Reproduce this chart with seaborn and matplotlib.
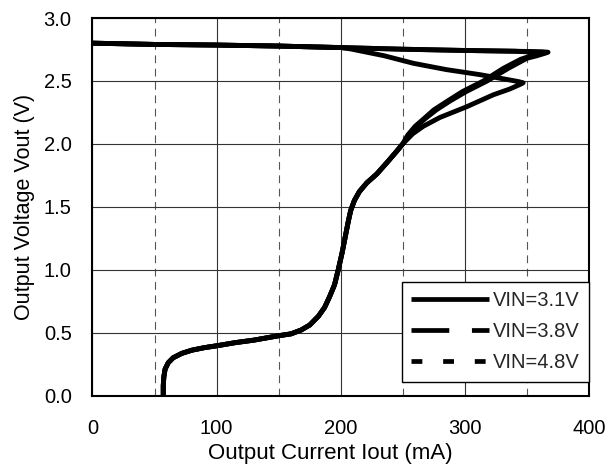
import matplotlib
matplotlib.use("Agg")
import matplotlib.pyplot as plt
from matplotlib.lines import Line2D
import seaborn as sns
import pandas as pd

# ---- data ----
series_names = ["VIN=3.1V", "VIN=3.8V", "VIN=4.8V"]

# head of each trace: no-load line, current-limit tip, fold-back until it joins the common curve
head31_i = [0, 50, 100, 150, 200, 207.5, 235, 258.5, 285, 312, 332, 343, 347, 344, 336, 323, 301.5, 280, 266.6, 258, 250]
head31_v = [2.80, 2.79, 2.785, 2.777, 2.765, 2.755, 2.70, 2.64, 2.59, 2.55, 2.515, 2.495, 2.485, 2.47, 2.435, 2.39, 2.295, 2.21, 2.14, 2.08, 2.0]

head38_i = [0, 50, 100, 150, 200, 250, 300, 340, 362, 367, 364, 358, 350, 335, 318, 301, 288, 277, 268, 261, 255, 250]
head38_v = [2.80, 2.79, 2.785, 2.777, 2.765, 2.752, 2.742, 2.736, 2.732, 2.728, 2.718, 2.70, 2.68, 2.60, 2.50, 2.415, 2.34, 2.27, 2.20, 2.14, 2.07, 2.0]

head48_i = [0, 50, 100, 150, 200, 250, 300, 340, 357, 361, 358, 352, 345, 331, 315, 298, 286, 275, 267, 260, 254, 250]
head48_v = [2.80, 2.79, 2.785, 2.777, 2.765, 2.752, 2.742, 2.736, 2.728, 2.722, 2.712, 2.695, 2.672, 2.60, 2.50, 2.415, 2.34, 2.27, 2.20, 2.14, 2.07, 2.0]

# common fold-back curve shared by all traces, from 2.0 V down to short circuit
tail_i = [245, 238, 229, 221, 215, 211, 208, 206, 204, 201, 198, 195, 191, 187, 182, 175, 168, 160, 150, 130, 115, 100, 90, 80, 72, 65, 61, 58.5, 57.5, 57, 57]
tail_v = [1.94, 1.86, 1.76, 1.69, 1.62, 1.55, 1.47, 1.38, 1.28, 1.13, 1.0, 0.88, 0.785, 0.70, 0.63, 0.56, 0.52, 0.49, 0.475, 0.44, 0.42, 0.395, 0.38, 0.36, 0.335, 0.30, 0.26, 0.21, 0.15, 0.08, 0.0]

x_ticks = [0, 100, 200, 300, 400]
x_minor = [50, 150, 250, 350]
y_ticks = [0.0, 0.5, 1.0, 1.5, 2.0, 2.5, 3.0]

heads = {
    "VIN=3.1V": (head31_i, head31_v),
    "VIN=3.8V": (head38_i, head38_v),
    "VIN=4.8V": (head48_i, head48_v),
}
rows = []
for name in series_names:
    hi, hv = heads[name]
    pts = list(zip(hi, hv)) + list(zip(tail_i, tail_v))
    for k, (i, v) in enumerate(pts):
        rows.append({"VIN": name, "order": k, "Iout": i, "Vout": v})
df = pd.DataFrame(rows)

# ---- style ----
sns.set_theme(style="white")
plt.rcParams["font.family"] = ["Liberation Sans", "DejaVu Sans"]

fig = plt.figure(figsize=(6.06, 4.68), dpi=100)
ax = fig.add_axes([92.5 / 606, 1 - 395.5 / 468, (589 - 92.5) / 606, (395.5 - 18) / 468])

sns.lineplot(data=df, x="Iout", y="Vout", hue="VIN", hue_order=series_names,
             palette=["black"] * 3, sort=False, estimator=None, units="VIN",
             linewidth=3.5, legend=False, ax=ax, zorder=3)

ax.set_xlim(0, 400)
ax.set_ylim(0, 3.0)
ax.set_xticks(x_ticks)
ax.set_xticks(x_minor, minor=True)
ax.set_yticks(y_ticks)
ax.set_yticklabels([f"{t:.1f}" for t in y_ticks])
ax.tick_params(axis="both", which="both", length=0, labelsize=14.5, colors="black")
ax.tick_params(axis="x", pad=17)
ax.tick_params(axis="y", pad=15)

ax.grid(True, which="major", color="#333333", linewidth=0.8, zorder=1)
ax.xaxis.grid(True, which="minor", color="#555555", linewidth=0.8,
              linestyle=(0, (7, 5)), zorder=1)
ax.set_axisbelow(True)

for s in ax.spines.values():
    s.set_visible(True)
    s.set_color("black")
    s.set_linewidth(1.5)

ax.set_xlabel("Output Current Iout (mA)", fontsize=16, labelpad=1, color="black")
ax.xaxis.set_label_coords(0.478, -0.125)
ax.set_ylabel("Output Voltage Vout (V)", fontsize=15.5, labelpad=6, color="black")

handles = [
    Line2D([], [], color="black", lw=3.4, solid_capstyle="butt"),
    Line2D([], [], color="black", lw=3.4, dashes=(8.0, 4.8), dash_capstyle="butt"),
    Line2D([], [], color="black", lw=3.4, dashes=(2.3, 4.4), dash_capstyle="butt"),
]
leg = ax.legend(handles, series_names, loc="lower right", bbox_to_anchor=(1.0, 0.037),
                fontsize=14.5, frameon=True, fancybox=False, framealpha=1,
                edgecolor="black", facecolor="white", borderpad=0.45,
                handlelength=3.9, handletextpad=0.2, labelspacing=0.6,
                borderaxespad=0)
leg.get_frame().set_linewidth(1.0)
leg.set_zorder(5)

fig.savefig("out.png", dpi=100)
